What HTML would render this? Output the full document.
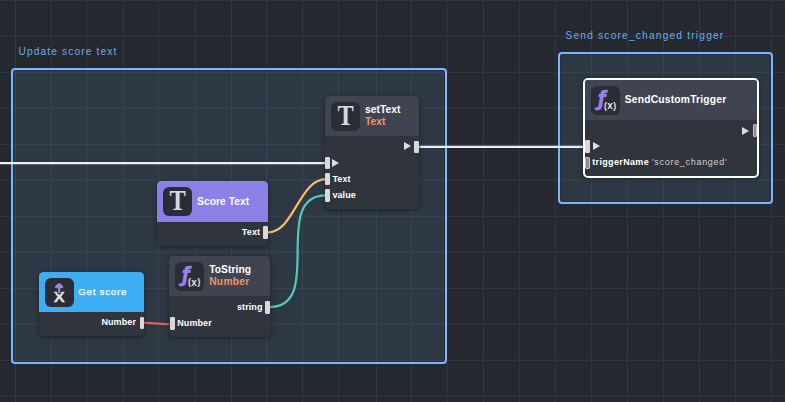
<!DOCTYPE html>
<html><head><meta charset="utf-8">
<style>
*{box-sizing:border-box;margin:0;padding:0}
html,body{width:785px;height:402px;overflow:hidden}
body{position:relative;background-color:#26282f;font-family:"Liberation Sans",sans-serif;}
.grp{position:absolute;border:2px solid #80b7f2;border-radius:4px;background:rgba(82,122,158,0.2);box-shadow:0 0 0 1px rgba(22,40,75,.55),inset 0 0 0 1px rgba(22,40,75,.45)}
.glab{position:absolute;color:#68acf0;font-size:10.2px;line-height:12px;white-space:nowrap;letter-spacing:1.08px}
.node{position:absolute;border-radius:4.5px;background:#30343c;box-shadow:0 1px 5px rgba(0,0,0,.45);}
.hd{position:absolute;left:0;top:0;right:0;height:40px;background:#404451;border-radius:4.5px 4.5px 0 0}
.ic{position:absolute;left:6px;top:6px;width:29px;height:29px;border-radius:6px;background:#2a2d34;overflow:hidden}
.tt{position:absolute;left:40px;color:#fff;font-weight:bold;font-size:10.3px;line-height:12px;white-space:nowrap;letter-spacing:.04px}
.st{color:#e8956a}
.port{position:absolute;width:4.8px;height:12.6px;margin-top:-.2px;border-radius:1.2px;background:#d9d9d9}
.port.off{background:#8d8d8d;border:1px solid #c9c9c9}
.pl{position:absolute;margin-top:-.6px;color:#fff;font-weight:bold;font-size:9px;line-height:10px;white-space:nowrap;letter-spacing:.1px}
.tri{position:absolute;width:0;height:0;margin-top:-.3px;border-left:7.5px solid #dedede;border-top:4.6px solid transparent;border-bottom:4.6px solid transparent}
.T{position:absolute;left:-.4px;top:-.9px;width:29px;text-align:center;font-family:"Liberation Serif",serif;font-weight:bold;font-size:29px;line-height:29px;color:#d6d8e2;transform:scaleX(.84)}

.fx{position:absolute;left:6.1px;top:-2.1px;font-family:"DejaVu Sans",sans-serif;font-weight:bold;font-style:italic;font-size:21.8px;line-height:29px;color:#9a84e2;-webkit-text-stroke:.5px #9a84e2;transform:scaleX(.84);transform-origin:50% 50%}
.px{position:absolute;left:12.8px;top:15.4px;font-weight:bold;font-size:10px;line-height:10px;color:#e4e4ea;letter-spacing:.5px;white-space:nowrap}
.px i{font-style:normal;font-size:8.6px;position:relative;top:-.5px}
.X{position:absolute;left:0;width:28.6px;text-align:center;top:10.6px;font-weight:bold;font-size:15.5px;line-height:16px;color:#e2e2e4;-webkit-text-stroke:.3px #e2e2e4;transform:scaleX(1.06)}
svg.w{position:absolute;left:0;top:0;width:785px;height:402px;pointer-events:none}
</style></head><body>

<svg class="w" viewBox="0 0 785 402"><path d="M15.5 0V402M51.2 0V402M87.1 0V402M123.4 0V402M158.4 0V402M195.4 0V402M231.5 0V402M266.7 0V402M302.5 0V402M338.4 0V402M376.5 0V402M411.3 0V402M447.2 0V402M483.5 0V402M519.4 0V402M555.4 0V402M591.4 0V402M627.5 0V402M663.4 0V402M699.5 0V402M735.3 0V402M771.4 0V402M0 0.3H785M0 36.3H785M0 72.3H785M0 108.3H785M0 144.3H785M0 180.3H785M0 216.3H785M0 252.3H785M0 288.3H785M0 324.3H785M0 360.3H785M0 396.3H785" stroke="#343740" stroke-width="1" fill="none"/></svg>
<div class="glab" style="left:18.5px;top:45.9px;letter-spacing:1.12px">Update score text</div>
<div class="grp" style="left:11.1px;top:68px;width:436px;height:296px"></div>
<div class="glab" style="left:565.5px;top:29.9px;letter-spacing:1.19px">Send score_changed trigger</div>
<div class="grp" style="left:558px;top:52px;width:215px;height:152px"></div>

<svg class="w" viewBox="0 0 785 402">
 <path d="M0 163.05 H326" stroke="#efefef" stroke-width="2.15" fill="none"/>
 <path d="M419.4 146.95 H586" stroke="#efefef" stroke-width="2.25" fill="none"/>
 <path d="M268 232.3 C294 232.3 299 179.2 326 179.2" stroke="#f3be69" stroke-width="2.2" fill="none"/>
 <path d="M270 307 C325 307 270 195.4 326 195.4" stroke="#57cab6" stroke-width="2.2" fill="none"/>
 <path d="M144 322.7 C153 322.7 161 324.2 170 324.2" stroke="#ea645d" stroke-width="2.1" fill="none"/>
</svg>

<!-- setText -->
<div class="node" style="left:324.9px;top:95.8px;width:94.2px;height:113.1px">
 <div class="hd"><div class="ic"><div class="T">T</div></div>
  <div class="tt" style="top:8.4px">setText</div>
  <div class="tt st" style="top:20.2px">Text</div></div>
 <div class="tri" style="left:79px;top:46.8px"></div>
 <div class="port" style="left:88.9px;top:45.2px;width:5.1px"></div>
 <div class="port" style="left:.5px;top:61.2px"></div>
 <div class="tri" style="left:7.5px;top:63px"></div>
 <div class="port" style="left:.5px;top:77.2px"></div>
 <div class="pl" style="left:7.5px;top:79px">Text</div>
 <div class="port" style="left:.5px;top:93.4px"></div>
 <div class="pl" style="left:7.5px;top:94.4px">value</div>
</div>

<!-- Score Text -->
<div class="node" style="left:157px;top:180.5px;width:111.1px;height:65.2px">
 <div class="hd" style="height:41.5px;background:#8c7fe6"><div class="ic" style="top:6.5px"><div class="T">T</div></div>
  <div class="tt" style="top:15.5px">Score Text</div></div>
 <div class="port" style="left:106.2px;top:45.8px"></div>
 <div class="pl" style="right:8px;top:46.8px">Text</div>
</div>

<!-- ToString -->
<div class="node" style="left:169.2px;top:256.2px;width:100.9px;height:80.4px">
 <div class="hd" style="height:39.8px"><div class="ic"><span class="fx">ƒ</span><span class="px"><i>(</i>x<i>)</i></span></div>
  <div class="tt" style="top:8.2px">ToString</div>
  <div class="tt st" style="top:20px;letter-spacing:.25px">Number</div></div>
 <div class="port" style="left:96px;top:45px"></div>
 <div class="pl" style="right:7.5px;top:46.8px">string</div>
 <div class="port" style="left:.7px;top:61.3px"></div>
 <div class="pl" style="left:8px;top:62.3px">Number</div>
</div>

<!-- Get score -->
<div class="node" style="left:39px;top:272px;width:105.3px;height:63.5px">
 <div class="hd" style="height:40.3px;background:#3eaef4"><div class="ic" style="width:28.6px;height:28.6px"><div class="X">X</div><svg style="position:absolute;left:0;top:0" width="29" height="29" viewBox="0 0 29 29"><path d="M14.15 4.7 C15.6 4.7 18.8 7.6 18.8 9.3 C18.8 10.5 17.6 10.5 15.8 10.5 V14.2 A1.65 1.65 0 0 1 12.5 14.2 V10.5 C10.7 10.5 9.5 10.5 9.5 9.3 C9.5 7.6 12.7 4.7 14.15 4.7 Z" fill="#9a84e2" stroke="#2a2d34" stroke-width="1"/></svg></div>
  <div class="tt" style="top:14.4px;left:39.2px;font-size:9.7px;letter-spacing:.78px;font-weight:normal;-webkit-text-stroke:.25px #fff">Get score</div></div>
 <div class="port" style="left:100.5px;top:44.7px"></div>
 <div class="pl" style="right:8.3px;top:45.7px">Number</div>
</div>

<!-- SendCustomTrigger -->
<div class="node" style="left:582.9px;top:77.8px;width:176.3px;height:99.8px;border:2px solid #fff;border-radius:5px">
 <div class="hd" style="height:40px;border-radius:3px 3px 0 0"><div class="ic" style="left:6.2px;top:6.2px"><span class="fx">ƒ</span><span class="px"><i>(</i>x<i>)</i></span></div>
  <div class="tt" style="top:13.9px;left:39.9px;letter-spacing:.19px">SendCustomTrigger</div></div>
 <div class="tri" style="left:157.3px;top:47.1px"></div>
 <div class="port off" style="left:167.8px;top:44.8px;"></div>
 <div class="port" style="left:.4px;top:60.6px"></div>
 <div class="tri" style="left:7.9px;top:62.6px"></div>
 <div class="port off" style="left:.4px;top:77.1px"></div>
 <div class="pl" style="left:7.3px;top:78px;letter-spacing:.35px">triggerName <span style="font-weight:normal;color:#cfcfcf;letter-spacing:.7px">'score_changed'</span></div>
</div>

</body></html>
